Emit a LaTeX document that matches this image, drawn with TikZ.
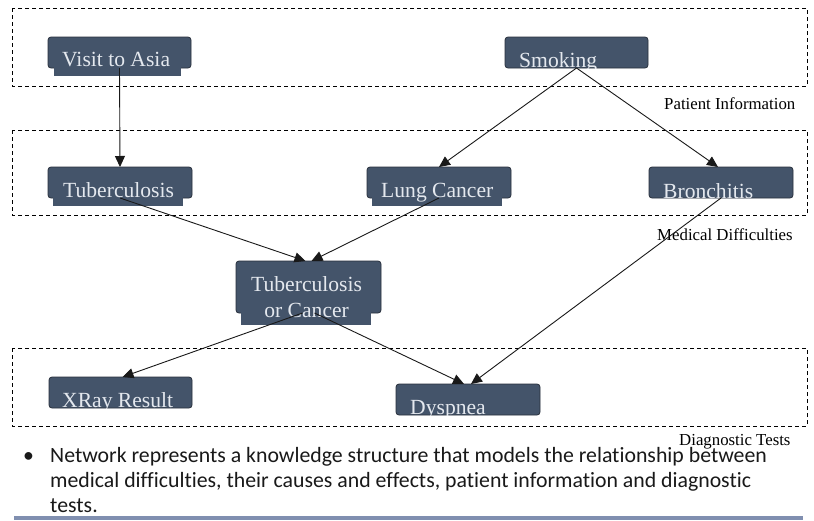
\documentclass[tikz,border=0pt]{standalone}
\usepackage{fontspec}
\setmainfont{Liberation Serif}
\newfontfamily\bodyfont[Ligatures=NoCommon]{Carlito}
\usetikzlibrary{arrows.meta}
\definecolor{boxfill}{RGB}{68,84,106}
\definecolor{boxline}{RGB}{40,48,60}
\definecolor{boxtextc}{RGB}{228,232,238}
\definecolor{rulec}{RGB}{128,143,176}
\tikzset{
  boxshape/.style={fill=boxfill, draw=boxline, line width=0.8pt, rounded corners=3pt, inner sep=0pt, outer sep=0pt},
  boxtext/.style={text=boxtextc, font=\fontsize{21.6}{26}\selectfont, inner sep=0pt, anchor=base west},
  groupbox/.style={draw=black, line width=0.8pt, dash pattern=on 4pt off 3pt},
  grouplabel/.style={font=\fontsize{16.8}{20}\selectfont, inner sep=0pt, anchor=base west},
  conn/.style={draw=black!90, line width=0.9pt, -{Triangle[length=11pt,width=10pt]}},
  bodytext/.style={font=\bodyfont\fontsize{21.8}{26}\selectfont, text=black!90, inner sep=0pt, anchor=base west}
}
% name, x1, y1, x2, y2, extension path, text x, baseline y, text
\newcommand\netbox[9]{%
  \node[boxshape, minimum width={(#4-#2)*1pt}, minimum height={(#5-#3)*1pt}] (#1) at ({(#2+#4)/2},{(#3+#5)/2}) {};
  \fill[boxfill] #6;
  \begin{scope}
    \clip (#2,#3) rectangle (#4,#5) #6;
    \node[boxtext] (#1-t) at (#7,#8) {#9};
  \end{scope}
}
\begin{document}
\begin{tikzpicture}[x=1pt,y=-1pt]
\useasboundingbox (0,0) rectangle (814,520);
\fill[white] (0,0) rectangle (814,520);
% group frames
\draw[groupbox] (12,8) rectangle (807,86);
\draw[groupbox] (12,130) rectangle (807,215);
\draw[groupbox] (12,348) rectangle (807,426);
% boxes
\netbox{va}{48}{37}{191}{68}{(54,67) rectangle (181,76)}{62}{66}{Visit to Asia}
\netbox{sm}{505}{37}{648}{68}{}{519}{67}{Smoking}
\netbox{tb}{48}{167}{192}{198}{(53,197) rectangle (183,206)}{63}{197}{Tuberculosis}
\netbox{lc}{367}{167}{511}{198}{(372,197) rectangle (502,206)}{381}{197}{Lung Cancer}
\netbox{br}{649}{167}{793}{198}{}{663}{198}{Bronchitis}
\netbox{toc}{236}{261}{381}{313}{(241,312) rectangle (371,325)}{251}{291}{\begin{tabular}[t]{@{}c@{}}Tuberculosis\\or Cancer\end{tabular}}
\netbox{xr}{49}{377}{192}{408}{}{62}{407}{XRay Result}
\netbox{dy}{396}{384}{540}{415}{}{410}{414}{Dyspnea}
% group labels
\node[grouplabel] (lpi) at (664,109) {Patient Information};
\node[grouplabel] (lmd) at (657,240) {Medical Difficulties};
\node[grouplabel] (ldt) at (679,445) {Diagnostic Tests};
% connectors
\draw[conn] (va.south) -- (tb.north);
\draw[conn] (sm.south) -- (lc.north);
\draw[conn] (sm.south) -- ([xshift=-3pt]br.north);
\draw[conn] (tb.south) -- ([xshift=-3pt]toc.north);
\draw[conn] (lc.south) -- ([xshift=3pt]toc.north);
\draw[conn] (br.south) -- ([xshift=3pt]dy.north);
\draw[conn] ([xshift=-6pt]toc.south) -- ([xshift=2pt]xr.north);
\draw[conn] ([xshift=6pt]toc.south) -- ([xshift=-4pt]dy.north);
% body text
\node[bodytext] (bul) at (23,462) {\textbullet};
\node[bodytext] (t1) at (50,462) {Network represents a knowledge structure that models the relationship between};
\node[bodytext] (t2) at (50,487) {medical difficulties, their causes and effects, patient information and diagnostic};
\node[bodytext] (t3) at (50,512) {tests.};
\draw[rulec, line width=3.5pt] (14,518) -- (803,518);
\end{tikzpicture}
\end{document}
